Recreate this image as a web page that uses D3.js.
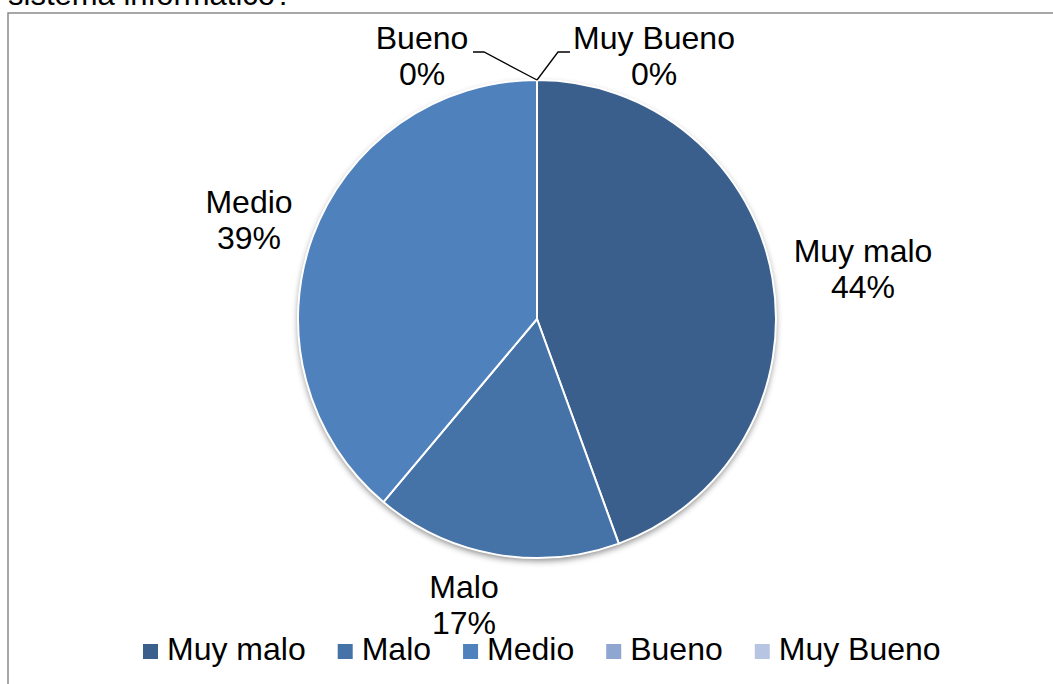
<!DOCTYPE html>
<html>
<head>
<meta charset="utf-8">
<script src="https://cdn.jsdelivr.net/npm/d3@7/dist/d3.min.js"></script>
<style>
  html, body { margin: 0; padding: 0; background: #fff; }
  svg { display: block; font-family: "Liberation Sans", Arial, sans-serif; }
</style>
</head>
<body>
<svg id="chart" width="1053" height="684"></svg>
<script>
// Response counts per rating
const categories = ["Muy malo", "Malo", "Medio", "Bueno", "Muy Bueno"];
const counts = [8, 3, 7, 0, 0];
const colors = ["#3A5F8C", "#4572A7", "#4F81BD", "#8FA6D0", "#B7C5E2"];
const questionTail = "sistema informático?";

const svg = d3.select("#chart");
const W = 1053, H = 684;
const cx = 537, cy = 319, R = 239;
const FONT = 31;

// Tail of the question text above the frame
svg.append("text")
  .attr("x", 8).attr("y", 5)
  .attr("font-size", FONT)
  .attr("fill", "#000")
  .text(questionTail);

// Chart frame
svg.append("rect")
  .attr("x", 8).attr("y", 13)
  .attr("width", W + 20).attr("height", H + 20)
  .attr("fill", "#fff")
  .attr("stroke", "#8a8a8a").attr("stroke-width", 1.5);

const defs = svg.append("defs");
const f = defs.append("filter").attr("id", "shadow")
  .attr("x", "-10%").attr("y", "-10%").attr("width", "120%").attr("height", "125%");
f.append("feDropShadow")
  .attr("dx", 0).attr("dy", 3).attr("stdDeviation", 3)
  .attr("flood-color", "#000").attr("flood-opacity", 0.45);

const total = d3.sum(counts);
const data = categories.map((c, i) => ({ cat: c, value: counts[i], color: colors[i] }));

const pie = d3.pie().value(d => d.value).sort(null);
const arcs = pie(data);
const arc = d3.arc().innerRadius(0).outerRadius(R);

const g = svg.append("g").attr("transform", `translate(${cx},${cy})`);

// Shadow disc behind the slices
g.append("circle").attr("r", R).attr("fill", "#fff").attr("filter", "url(#shadow)");

g.selectAll("path.slice")
  .data(arcs.filter(d => d.value > 0))
  .join("path")
  .attr("class", "slice")
  .attr("d", arc)
  .attr("fill", d => d.data.color)
  .attr("stroke", "#fff")
  .attr("stroke-width", 2)
  .attr("stroke-linejoin", "round");

const pct = v => Math.round(v / total * 100) + "%";

// Data label placement (centre x, baseline of first line)
const labelPos = {
  "Muy malo": [863, 262],
  "Malo": [464, 598],
  "Medio": [249, 213],
  "Bueno": [422, 49],
  "Muy Bueno": [654, 49]
};
const lineGap = 36;
const LABEL_FONT = 32;

arcs.forEach(d => {
  const [lx, ly] = labelPos[d.data.cat];
  const t = svg.append("text")
    .attr("text-anchor", "middle")
    .attr("font-size", LABEL_FONT)
    .attr("fill", "#000");
  t.append("tspan").attr("x", lx).attr("y", ly).text(d.data.cat);
  t.append("tspan").attr("x", lx).attr("y", ly + lineGap).text(pct(d.value));
});

// Leader lines for the zero-sized slices at the top of the pie
const leaders = {
  "Bueno": [[473, 52], [484, 52]],
  "Muy Bueno": [[570, 52], [558, 52]]
};
arcs.filter(d => d.value === 0).forEach(d => {
  const [p0, p1] = leaders[d.data.cat];
  const [ex, ey] = d3.pointRadial(d.startAngle, R);
  svg.append("path")
    .attr("d", d3.line()([p0, p1, [cx + ex, cy + ey]]))
    .attr("fill", "none")
    .attr("stroke", "#000")
    .attr("stroke-width", 1.3);
});

// Legend
const legendY = 660;
const sq = 15;
const legend = svg.append("g");
let x = 143;
data.forEach(d => {
  legend.append("rect")
    .attr("x", x).attr("y", legendY - 16)
    .attr("width", sq).attr("height", sq)
    .attr("fill", d.color);
  const t = legend.append("text")
    .attr("x", x + sq + 9).attr("y", legendY)
    .attr("font-size", LABEL_FONT)
    .attr("fill", "#000")
    .text(d.cat);
  const w = t.node().getComputedTextLength();
  x = x + sq + 9 + w + 32;
});
</script>
</body>
</html>
